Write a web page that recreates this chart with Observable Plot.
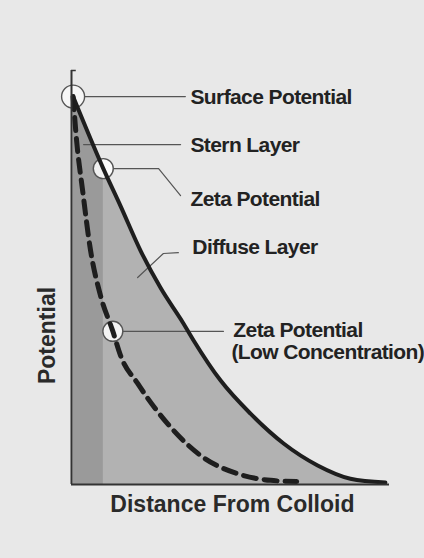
<!DOCTYPE html>
<html>
<head>
<meta charset="utf-8">
<script src="https://cdn.jsdelivr.net/npm/d3@7"></script>
<script src="https://cdn.jsdelivr.net/npm/@observablehq/plot@0.6"></script>
<style>
  html, body { margin: 0; padding: 0; background: #e8e8e8; }
  #chart svg { display: block; background: #e8e8e8; }
  #chart svg g[font-size="21"] text { letter-spacing: -0.6px; }
</style>
</head>
<body>
<div id="chart"></div>
<script>
// Solid curve: potential vs distance (normal concentration)
const solidDistance = [0.05, 1.0, 1.54, 2.17, 2.8, 3.52, 3.84, 4.69, 5.63, 6.67, 7.74, 8.77, 9.87];
const solidPotential = [93.7, 76.3, 67.3, 56.5, 47.5, 38.9, 34.8, 25.1, 17.1, 9.9, 4.6, 1.4, 0.5];
// Dashed curve: potential vs distance (low concentration)
const dashedDistance = [0.05, 0.16, 0.35, 0.6, 0.91, 1.3, 1.54, 2.08, 3.02, 4.06, 5.31, 6.26, 7.08];
const dashedPotential = [93.7, 83.1, 71.0, 56.5, 45.7, 37.0, 31.2, 24.4, 14.7, 7.0, 2.4, 1.0, 0.7];
// Stern layer boundary (distance)
const sternBoundary = 1.0;
// Annotation texts
const annotationLabels = ["Surface Potential", "Stern Layer", "Zeta Potential", "Diffuse Layer", "Zeta Potential", "(Low Concentration)"];
const axisLabels = { x: "Distance From Colloid", y: "Potential" };

const solid = solidDistance.map((d, i) => ({ d, p: solidPotential[i] }));
const dashed = dashedDistance.map((d, i) => ({ d, p: dashedPotential[i] }));
const stern = solid.filter(o => o.d <= sternBoundary);

const surfacePt = solid[0];
const zetaPt = solid.find(o => o.d === sternBoundary);
const zetaLowPt = dashed[5];

const leaders = [
  { g: "surface", d: surfacePt.d + 0.37, p: surfacePt.p },
  { g: "surface", d: 3.58, p: surfacePt.p },
  { g: "stern", d: 0.38, p: 82.1 },
  { g: "stern", d: 3.43, p: 82.1 },
  { g: "zeta", d: zetaPt.d + 0.3, p: zetaPt.p },
  { g: "zeta", d: 2.74, p: zetaPt.p },
  { g: "zeta", d: 3.43, p: 69.8 },
  { g: "diffuse", d: 2.08, p: 50.0 },
  { g: "diffuse", d: 2.89, p: 55.8 },
  { g: "diffuse", d: 3.36, p: 56.0 },
  { g: "low", d: zetaLowPt.d + 0.3, p: zetaLowPt.p },
  { g: "low", d: 4.78, p: zetaLowPt.p }
];

const labelPos = [
  { d: 3.74, p: 93.5 },
  { d: 3.74, p: 81.9 },
  { d: 3.74, p: 68.8 },
  { d: 3.80, p: 57.2 },
  { d: 5.09, p: 37.2 },
  { d: 5.03, p: 31.9 }
];
const labels = annotationLabels.map((t, i) => ({ t, ...labelPos[i] }));

const ink = "#1e1e1e";
const thin = "#555";
const sans = "'Liberation Sans', Arial, sans-serif";

const chart = Plot.plot({
  width: 424,
  height: 558,
  marginLeft: 71,
  marginRight: 35,
  marginTop: 70,
  marginBottom: 74,
  x: { domain: [0, 10], axis: null },
  y: { domain: [0, 100], axis: null },
  style: { background: "#e8e8e8" },
  marks: [
    Plot.areaY(solid, { x: "d", y: "p", fill: "#b2b2b2", curve: "monotone-x" }),
    Plot.areaY(stern, { x: "d", y: "p", fill: "#9a9a9a", curve: "monotone-x" }),
    Plot.line(leaders, { x: "d", y: "p", z: "g", stroke: thin, strokeWidth: 1.2 }),
    Plot.dot([surfacePt], { x: "d", y: "p", r: 11.5, fill: "white", fillOpacity: 0.6, stroke: thin, strokeWidth: 1.4 }),
    Plot.dot([zetaPt, zetaLowPt], { x: "d", y: "p", r: 10, fill: "white", fillOpacity: 0.85, stroke: thin, strokeWidth: 1.4 }),
    Plot.line(dashed, { x: "d", y: "p", stroke: ink, strokeWidth: 5, strokeDasharray: "13,8", curve: "monotone-x" }),
    Plot.line(solid, { x: "d", y: "p", stroke: ink, strokeWidth: 4, curve: "monotone-x" }),
    Plot.ruleX([0], { y1: 0, y2: 100, stroke: "#333", strokeWidth: 2 }),
    Plot.ruleY([100], { x1: 0, x2: 0.15, stroke: "#333", strokeWidth: 1.5 }),
    Plot.ruleY([0], { x1: 0, x2: 10, stroke: "#333", strokeWidth: 2 }),
    Plot.text(labels, { x: "d", y: "p", text: "t", textAnchor: "start", fill: "#222", fontSize: 21, fontWeight: "bold", fontFamily: sans }),
    Plot.text([axisLabels.x], { x: 5.06, y: -4.83, text: d => d, fill: "#2a2a2a", fontSize: 23, fontWeight: "bold", fontFamily: sans }),
    Plot.text([axisLabels.y], { x: -0.75, y: 36.0, text: d => d, rotate: -90, fill: "#2a2a2a", fontSize: 23, fontWeight: "bold", fontFamily: sans })
  ]
});
document.getElementById("chart").appendChild(chart);
</script>
</body>
</html>
